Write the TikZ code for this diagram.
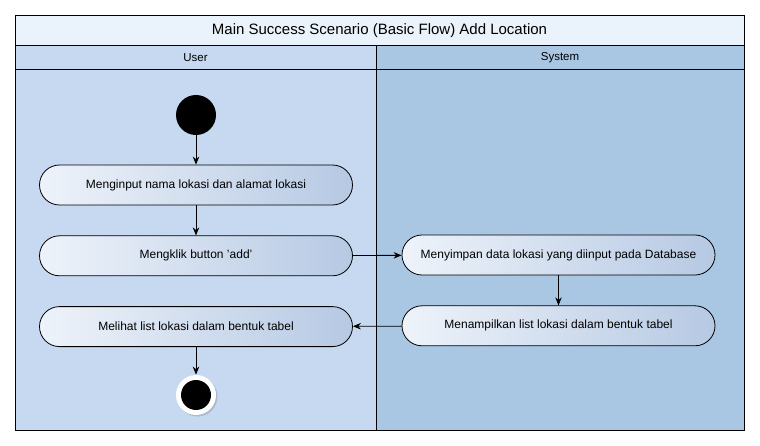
\documentclass[tikz,border=0pt]{standalone}
\usepackage{fontspec}
\setmainfont{Liberation Sans}
\usepackage{tikz}
\usetikzlibrary{arrows.meta,positioning,shadows}
\usepackage{xcolor}
\definecolor{titlebg}{RGB}{234,242,251}
\definecolor{userlane}{RGB}{198,217,240}
\definecolor{syslane}{RGB}{169,199,227}
\definecolor{actleft}{RGB}{238,243,250}
\definecolor{actright}{RGB}{182,201,227}

\begin{document}
\begin{tikzpicture}[x=1pt,y=-1pt,->,>={Stealth[length=8pt,width=6.5pt]},line width=0.8pt,
  act/.style={rectangle,draw,rounded corners=20pt,minimum width=313pt,minimum height=40pt,
    left color=actleft,right color=actright,font=\fontsize{12}{14}\selectfont},
  start/.style={circle,fill=black,minimum size=40pt,inner sep=0pt},
  stop/.style={circle,fill=white,minimum size=40pt,inner sep=0pt,
    drop shadow={opacity=0.35,shadow xshift=1.5pt,shadow yshift=-1.5pt},
    path picture={\fill[black] (path picture bounding box.center) circle (15pt);}},
  lane/.style={font=\fontsize{11.5}{13}\selectfont}]
  \useasboundingbox[fill=white] (0,0) rectangle (760,446);
  % swimlanes
  \fill[userlane] (15,45) rectangle (376,430);
  \fill[syslane] (376,45) rectangle (744,430);
  \fill[titlebg] (15,15) rectangle (744,45);
  \draw[-] (15,15) rectangle (744,430);
  \draw[-] (15,45) -- (744,45);
  \draw[-] (15,69) -- (744,69);
  \draw[-] (376,45) -- (376,430);
  \node (title) at (379.5,30.5) {\fontsize{15}{17}\selectfont Main Success Scenario (Basic Flow) Add Location};
  \node[lane] (user) at (195.5,58) {User};
  \node[lane] (system) at (560,58) {System};

  \node[start] 	(start)	at (196,115)		{};
  \node[act]	(input)	at (196,185)		{Menginput nama lokasi dan alamat lokasi};
  \node[act]	(add)	[below=30pt of input]	{Mengklik button 'add'};
  \node[act]	(list)	[below=30pt of add]	{Melihat list lokasi dalam bentuk tabel};
  \node[stop]	(stop)	at (196,395)		{};
  \node[act]	(save)	at (558.5,255)		{Menyimpan data lokasi yang diinput pada Database};
  \node[act]	(show)	[below=30pt of save]	{Menampilkan list lokasi dalam bentuk tabel};

  \path	(start)	edge (input)
	(input)	edge (add)
	(add)	edge (save)
	(save)	edge (show)
	(show)	edge (list)
	(list)	edge (stop);
\end{tikzpicture}
\end{document}
